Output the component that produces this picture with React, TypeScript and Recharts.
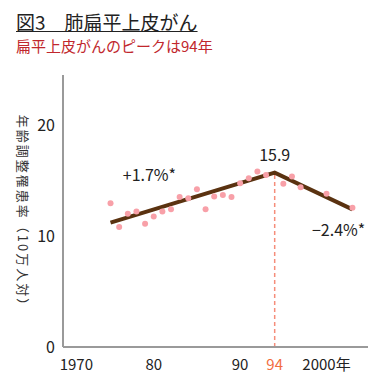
import {
  ComposedChart,
  Line,
  ReferenceDot,
  ReferenceLine,
  Scatter,
  XAxis,
  YAxis,
} from 'recharts';

const years = [
  1975, 1976, 1977, 1978, 1979, 1980, 1981, 1982, 1983, 1984, 1985, 1986,
  1987, 1988, 1989, 1990, 1991, 1992, 1993, 1995, 1996, 1997, 2000, 2003,
];
const rates = [
  12.95, 10.8, 12.0, 12.2, 11.1, 11.75, 12.2, 12.4, 13.5, 13.4, 14.2, 12.4,
  13.55, 13.7, 13.5, 14.75, 15.2, 15.8, 15.5, 14.7, 15.35, 14.4, 13.8, 12.55,
];
const trendYears = [1975, 1994, 2003];
const trendValues = [11.2, 15.7, 12.4];
const xTicks = [1970, 1980, 1990, 1994, 2000];
const yTicks = [0, 10, 20];

const FONT = "'Noto Sans CJK JP', sans-serif";

const allYears = Array.from(new Set([...years, ...trendYears])).sort((a, b) => a - b);
const table = allYears.map((year) => {
  const i = years.indexOf(year);
  const t = trendYears.indexOf(year);
  return {
    year,
    rate: i >= 0 ? rates[i] : null,
    trend: t >= 0 ? trendValues[t] : null,
  };
});

function XTick({ x, y, payload }: any) {
  const v = payload.value as number;
  const text = v === 1970 ? '1970' : v === 2000 ? '2000年' : String(v % 100);
  return (
    <text
      x={x + (v === 1970 ? 9 : 0)}
      y={y + 15}
      textAnchor="middle"
      fontSize={15}
      fontFamily={FONT}
      fill={v === 1994 ? '#f26d3d' : '#222'}
    >
      {text}
    </text>
  );
}

function Dot(p: any) {
  if (p.payload == null || p.payload.rate == null) return null;
  return <circle cx={p.cx} cy={p.cy} r={3} fill="#f8a0a8" />;
}

export default function App() {
  return (
    <div style={{ position: 'absolute', left: 0, top: 0, width: 386, height: 384, background: '#fff', fontFamily: FONT }}>
      <div
        style={{
          position: 'absolute',
          left: 16,
          top: 10,
          fontSize: 19,
          lineHeight: '23px',
          color: '#222',
          textDecoration: 'underline',
          whiteSpace: 'nowrap',
        }}
      >
        図3　肺扁平上皮がん
      </div>
      <div
        style={{
          position: 'absolute',
          left: 16,
          top: 37,
          fontSize: 15,
          lineHeight: '18px',
          color: '#c1272d',
          whiteSpace: 'nowrap',
        }}
      >
        扁平上皮がんのピークは94年
      </div>
      <div
        style={{
          position: 'absolute',
          left: 23,
          top: 214,
          transform: 'translate(-50%, -50%) rotate(90deg)',
          fontSize: 13,
          letterSpacing: 2,
          color: '#333',
          whiteSpace: 'nowrap',
        }}
      >
        年齢調整罹患率（10万人対）
      </div>
      <ComposedChart
        width={386}
        height={384}
        data={table}
        margin={{ top: 75, right: 18, bottom: 7, left: 23 }}
        style={{ position: 'absolute', left: 0, top: 0 }}
      >
        <XAxis
          dataKey="year"
          type="number"
          domain={[1969.5, 2004.8]}
          ticks={xTicks}
          tick={<XTick />}
          tickLine={false}
          axisLine={{ stroke: '#9a9a9a', strokeWidth: 2 }}
          height={30}
          interval={0}
        />
        <YAxis
          type="number"
          domain={[0, 24.5]}
          ticks={yTicks}
          width={40}
          tickLine={false}
          tickMargin={2}
          axisLine={{ stroke: '#9a9a9a', strokeWidth: 2 }}
          tick={{ fontSize: 16, fill: '#222', fontFamily: FONT }}
        />
        <ReferenceLine
          segment={[
            { x: 1994, y: 0 },
            { x: 1994, y: 15.7 },
          ]}
          stroke="#f58d7a"
          strokeWidth={1.5}
          strokeDasharray="4 3"
        />
        <Scatter dataKey="rate" fill="#f8a0a8" shape={Dot} isAnimationActive={false} />
        <Line
          dataKey="trend"
          stroke="#5a3210"
          strokeWidth={4}
          dot={false}
          connectNulls
          isAnimationActive={false}
        />
        <ReferenceDot
          x={1994}
          y={15.7}
          r={0}
          label={{ value: '15.9', position: 'top', offset: 12, fontSize: 16, fill: '#222', fontFamily: FONT }}
        />
        <ReferenceDot
          x={1979.5}
          y={15.5}
          r={0}
          label={{ value: '+1.7%*', position: 'center', fontSize: 16, fill: '#222', fontFamily: FONT }}
        />
        <ReferenceDot
          x={2001.4}
          y={10.5}
          r={0}
          label={{ value: '−2.4%*', position: 'center', fontSize: 16, fill: '#222', fontFamily: FONT }}
        />
      </ComposedChart>
    </div>
  );
}
